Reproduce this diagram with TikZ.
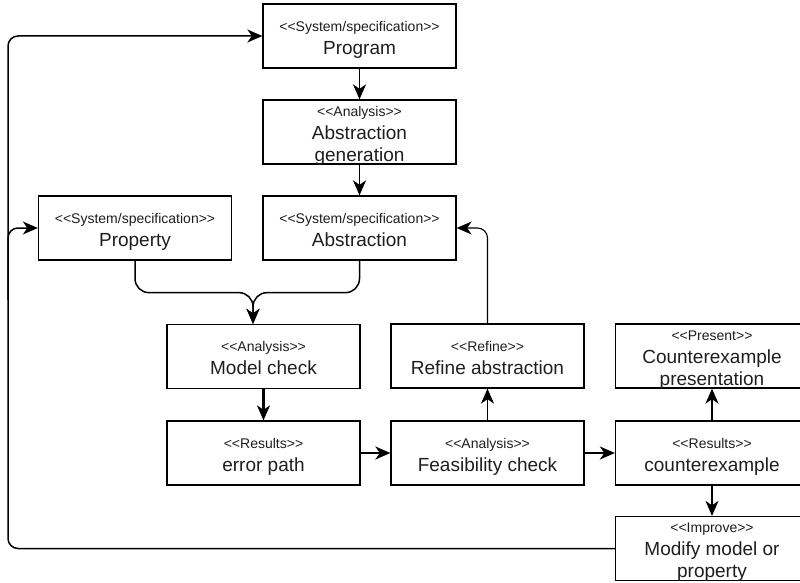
\documentclass[tikz,border=0pt]{standalone}
\usepackage{fontspec}
\setmainfont{Liberation Sans}
\usetikzlibrary{arrows.meta}
\definecolor{ink}{HTML}{1E1E1E}

% UML-style stereotype, angle brackets kept as plain characters
\newcommand{\stype}[1]{<{}<#1>{}>}
% stereotype line + one-line name
\newcommand{\labtwo}[3]{%
  \node[stereo] (#1-s) at ([yshift=-28pt]#1.north) {\stype{#2}};
  \node[lbl] (#1-t) at ([yshift=-51pt]#1.north) {#3};}
% stereotype line + two-line name
\newcommand{\labthree}[4]{%
  \node[stereo] (#1-s) at ([yshift=-17pt]#1.north) {\stype{#2}};
  \node[lbl] (#1-a) at ([yshift=-40pt]#1.north) {#3};
  \node[lbl] (#1-b) at ([yshift=-62pt]#1.north) {#4};}

\begin{document}
\begin{tikzpicture}[x=1pt,y=-1pt,
  box/.style={draw, line width=1.3pt, minimum width=193pt, minimum height=64pt, inner sep=0pt},
  stereo/.style={anchor=base, inner sep=0pt, text=ink, font=\fontsize{14}{16}\selectfont},
  lbl/.style={anchor=base, inner sep=0pt, text=ink, font=\fontsize{19}{22}\selectfont},
  tip/.style={-{Stealth[length=15pt,width=13pt,inset=4.5pt]}},
  flow/.style={tip, line width=1.5pt},
  heavy/.style={tip, line width=2.1pt},
  light/.style={tip, line width=1.1pt}]
\clip (0,0) rectangle (800,583);

% boxes
\node[box] (prog)   at (359.5,36)  {};
\node[box] (absgen) at (359.5,132) {};
\node[box] (prop)   at (135,228)   {};
\node[box] (abs)    at (359.5,228) {};
\node[box] (mc)     at (263.5,356.5) {};
\node[box] (ref)    at (487.5,356) {};
\node[box] (pres)   at (712,356)   {};
\node[box] (err)    at (263.5,453) {};
\node[box] (feas)   at (487.5,453) {};
\node[box] (cex)    at (712,453)   {};
\node[box] (mod)    at (712,548.5) {};

% texts
\labtwo{prog}{System/specification}{Program}
\labthree{absgen}{Analysis}{Abstraction}{generation}
\labtwo{prop}{System/specification}{Property}
\labtwo{abs}{System/specification}{Abstraction}
\labtwo{mc}{Analysis}{Model check}
\labtwo{ref}{Refine}{Refine abstraction}
\labthree{pres}{Present}{Counterexample}{presentation}
\labtwo{err}{Results}{error path}
\labtwo{feas}{Analysis}{Feasibility check}
\labtwo{cex}{Results}{counterexample}
\labthree{mod}{Improve}{Modify model or}{property}

% connectors
\coordinate (mcin) at ([xshift=-10.5pt]mc.north);
\coordinate (lc) at (8,300);

\draw[flow] (prog) -- (absgen);
\draw[flow] (absgen) -- (abs);
\draw[flow, rounded corners=14pt] (prop.south) -- ++(0,32) -| (mcin);
\draw[flow, rounded corners=14pt] (abs.south) -- ++(0,32) -| (mcin);
\draw[heavy] (mc) -- (err);
\draw[heavy] (err) -- (feas);
\draw[heavy] (feas) -- (cex);
\draw[light] (feas) -- (ref);
\draw[light, rounded corners=10pt] (ref.north) |- (abs.east);
\draw[heavy] (cex.north) -- (pres.south);
\draw[light] (cex.south) -- (mod.north);
\draw[flow, rounded corners=10pt] (mod.west) -| (lc) |- (prog.west);
\draw[flow, rounded corners=10pt] (lc) |- (prop.west);
\end{tikzpicture}
\end{document}
